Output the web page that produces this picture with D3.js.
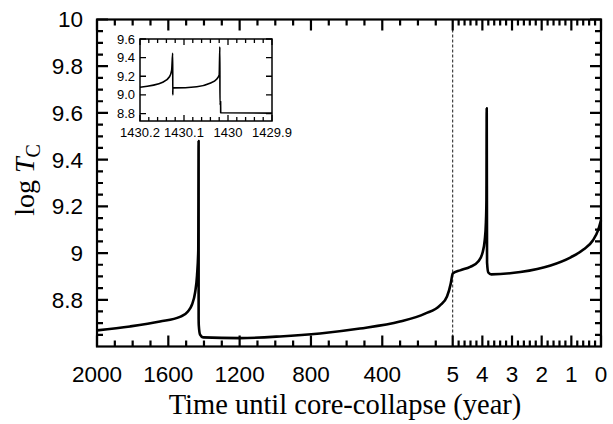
<!DOCTYPE html>
<html>
<head>
<meta charset="utf-8">
<script src="https://cdn.jsdelivr.net/npm/d3@7"></script>
<style>
  body { margin: 0; background: #fff; }
  svg { display: block; }
</style>
</head>
<body>
<svg id="chart" width="613" height="424"></svg>
<script>
// Central temperature (log T_C) against time left until core collapse.
// The time axis is split: years 2000..5 on the left, 5..0 expanded on the right.
const mainTime = [2000, 1815, 1647, 1535, 1490, 1467, 1450, 1439, 1432, 1430.1, 1430.0, 1429, 1422, 1405,
  1198, 974, 749, 525, 301, 160, 76, 37, 17, 9, 5,
  4.75, 4.41, 4.14, 4.0, 3.92, 3.88, 3.863, 3.853, 3.842, 3.80, 3.70, 2.72, 1.70, 1.02, 0.58, 0.27, 0.10, 0.0];
const mainLogT = [8.669, 8.686, 8.707, 8.727, 8.750, 8.780, 8.830, 8.904, 9.012, 9.48, 8.72, 8.69, 8.651, 8.639,
  8.636, 8.643, 8.656, 8.677, 8.707, 8.741, 8.776, 8.814, 8.866, 8.900, 8.913,
  8.926, 8.941, 8.964, 8.999, 9.055, 9.132, 9.226, 9.62, 8.96, 8.917, 8.909, 8.919, 8.947, 8.982, 9.016, 9.055, 9.097, 9.140];

// Close-up of the flashes around 1430 years before collapse
const insetTime = [1430.2, 1430.147, 1430.133, 1430.128, 1430.1257, 1430.1255, 1430.1253, 1430.1227,
  1430.071, 1430.041, 1430.026, 1430.020, 1430.0185, 1430.0183, 1430.0168, 1430.0166, 1429.9];
const insetLogT = [9.082, 9.139, 9.195, 9.267, 9.447, 9.0, 9.075, 9.075,
  9.088, 9.125, 9.168, 9.214, 9.517, 8.892, 8.93, 8.809, 8.805];

// Tick values
const xMajorLeft = [2000, 1600, 1200, 800, 400];
const xMinorLeft = [1900, 1800, 1700, 1500, 1400, 1300, 1100, 1000, 900, 700, 600, 500, 300, 200, 100];
const xMajorRight = [5, 4, 3, 2, 1, 0];
const xMinorRight = [4.8, 4.6, 4.4, 4.2, 3.8, 3.6, 3.4, 3.2, 2.8, 2.6, 2.4, 2.2, 1.8, 1.6, 1.4, 1.2, 0.8, 0.6, 0.4, 0.2];
const yMajor = [8.8, 9, 9.2, 9.4, 9.6, 9.8, 10];
const yMinor = [8.65, 8.7, 8.75, 8.85, 8.9, 8.95, 9.05, 9.1, 9.15, 9.25, 9.3, 9.35, 9.45, 9.5, 9.55,
  9.65, 9.7, 9.75, 9.85, 9.9, 9.95];
const insetXMajor = [1430.2, 1430.1, 1430, 1429.9];
const insetXMinor = [1430.18, 1430.16, 1430.14, 1430.12, 1430.08, 1430.06, 1430.04, 1430.02,
  1429.98, 1429.96, 1429.94, 1429.92];
const insetYMajor = [8.8, 9.0, 9.2, 9.4, 9.6];

const svg = d3.select("#chart");
const L = 97, R = 601, T = 19.5, B = 346.5;
const xBreak = 452.7;

const x = d3.scaleLinear().domain([2000, 5, 0]).range([L, xBreak, R]);
const y = d3.scaleLinear().domain([8.6, 10]).range([B, T]);

const sans = "'Liberation Sans', Arial, sans-serif";
const serif = "'Liberation Serif', 'Times New Roman', serif";

// inward tick marks on all four sides of a box
function tickPath(scaleX, scaleY, bx, xVals, yVals, len) {
  const [l, r, tp, bt] = bx;
  let d = "";
  xVals.forEach(v => { const s = scaleX(v); d += `M${s} ${bt}L${s} ${bt - len}M${s} ${tp}L${s} ${tp + len}`; });
  yVals.forEach(v => { const s = scaleY(v); d += `M${l} ${s}L${l + len} ${s}M${r} ${s}L${r - len} ${s}`; });
  return d;
}

// tick labels
svg.append("g").selectAll("text").data(xMajorLeft.concat(xMajorRight)).join("text")
  .attr("x", d => x(d)).attr("y", B + 35)
  .attr("text-anchor", "middle")
  .attr("font-family", sans).attr("font-size", 22.5)
  .text(d => d3.format("d")(d));
svg.append("g").selectAll("text").data(yMajor).join("text")
  .attr("x", L - 14).attr("y", d => y(d)).attr("dy", "0.35em")
  .attr("text-anchor", "end")
  .attr("font-family", sans).attr("font-size", 22.5)
  .text(d => d3.format("~g")(d));

// break between the two time ranges
svg.append("line")
  .attr("x1", x(5)).attr("x2", x(5)).attr("y1", T).attr("y2", B)
  .attr("stroke", "#000").attr("stroke-width", 0.9).attr("stroke-dasharray", "3,2");

// main curve
const mainPts = mainTime.map((t, i) => [x(t), y(mainLogT[i])]);
svg.append("path")
  .attr("d", d3.line().curve(d3.curveMonotoneX)(mainPts))
  .attr("fill", "none").attr("stroke", "#000").attr("stroke-width", 2.6)
  .attr("stroke-linejoin", "round");

// frame and ticks
svg.append("rect").attr("x", L).attr("y", T).attr("width", R - L).attr("height", B - T)
  .attr("fill", "none").attr("stroke", "#000").attr("stroke-width", 2.2);
svg.append("path")
  .attr("d", tickPath(x, y, [L, R, T, B], xMajorLeft.concat(xMajorRight), yMajor, 11))
  .attr("fill", "none").attr("stroke", "#000").attr("stroke-width", 2.2);
svg.append("path")
  .attr("d", tickPath(x, y, [L, R, T, B], xMinorLeft.concat(xMinorRight), yMinor, 6))
  .attr("fill", "none").attr("stroke", "#000").attr("stroke-width", 2.2);

// axis titles
svg.append("text")
  .attr("x", 345).attr("y", 414)
  .attr("text-anchor", "middle")
  .attr("font-family", serif).attr("font-size", 28.5)
  .text("Time until core-collapse (year)");

const yt = svg.append("text")
  .attr("transform", "translate(34,180) rotate(-90)")
  .attr("text-anchor", "middle")
  .attr("font-family", serif).attr("font-size", 28);
yt.append("tspan").text("log ");
yt.append("tspan").attr("font-style", "italic").text("T");
yt.append("tspan").attr("font-size", 20).attr("dy", 6).text("C");

// inset
const iL = 140, iR = 272, iT = 39, iB = 121;
const ix = d3.scaleLinear().domain([1430.2, 1429.9]).range([iL, iR]);
const iy = d3.scaleLinear().domain([8.72, 9.6]).range([iB, iT]);

const inset = svg.append("g");
inset.append("rect").attr("x", iL).attr("y", iT).attr("width", iR - iL).attr("height", iB - iT)
  .attr("fill", "#fff");

inset.append("g").selectAll("text").data(insetXMajor).join("text")
  .attr("x", d => ix(d)).attr("y", iB + 16)
  .attr("text-anchor", "middle")
  .attr("font-family", sans).attr("font-size", 13)
  .text(d => String(+d.toFixed(1)));
inset.append("g").selectAll("text").data(insetYMajor).join("text")
  .attr("x", iL - 5).attr("y", d => iy(d)).attr("dy", "0.35em")
  .attr("text-anchor", "end")
  .attr("font-family", sans).attr("font-size", 13)
  .text(d => d3.format(".1f")(d));

const insetPts = insetTime.map((t, i) => [ix(t), iy(insetLogT[i])]);
inset.append("path")
  .attr("d", d3.line().curve(d3.curveMonotoneX)(insetPts))
  .attr("fill", "none").attr("stroke", "#000").attr("stroke-width", 1.6)
  .attr("stroke-linejoin", "round");

inset.append("rect").attr("x", iL).attr("y", iT).attr("width", iR - iL).attr("height", iB - iT)
  .attr("fill", "none").attr("stroke", "#000").attr("stroke-width", 1.5);
inset.append("path")
  .attr("d", tickPath(ix, iy, [iL, iR, iT, iB], insetXMajor, insetYMajor, 6))
  .attr("fill", "none").attr("stroke", "#000").attr("stroke-width", 1.3);
inset.append("path")
  .attr("d", tickPath(ix, iy, [iL, iR, iT, iB], insetXMinor, [], 4))
  .attr("fill", "none").attr("stroke", "#000").attr("stroke-width", 1.3);
</script>
</body>
</html>
